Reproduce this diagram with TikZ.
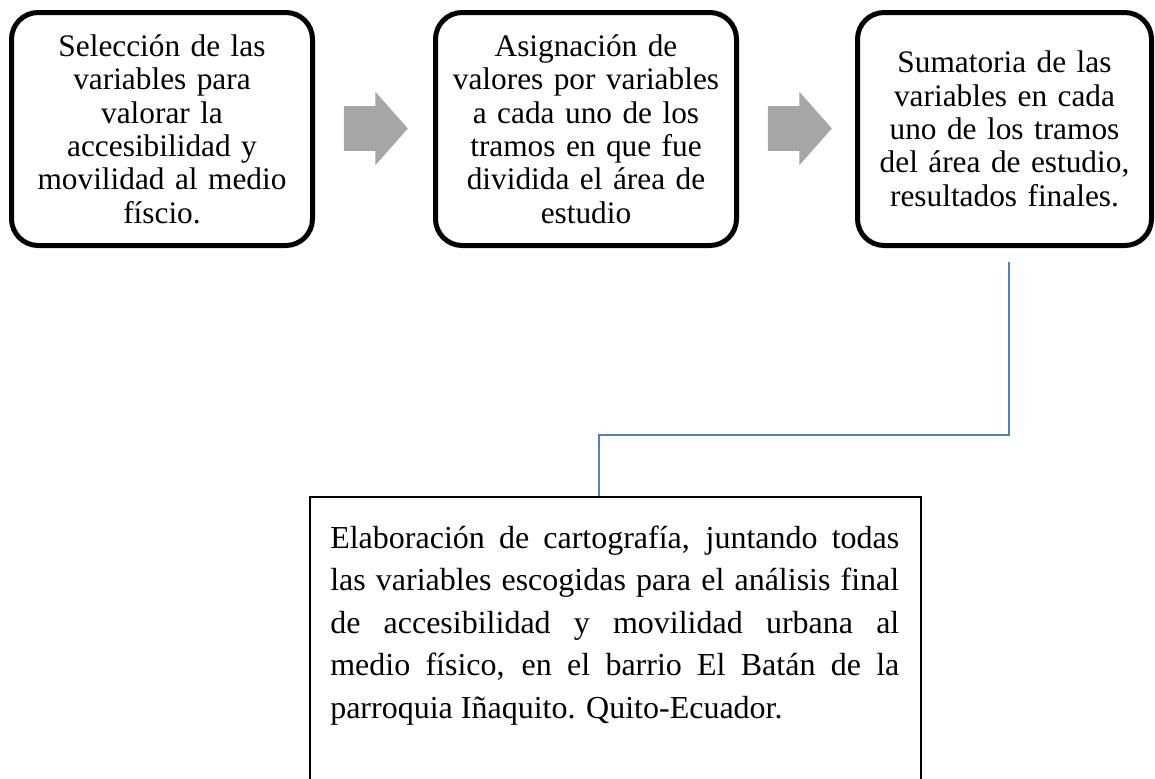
\documentclass[tikz,border=0pt]{standalone}
\usepackage{fontspec}
\setmainfont{Liberation Serif}
\usetikzlibrary{positioning,shapes.arrows}

\definecolor{arrowgray}{HTML}{A6A6A6}
\definecolor{linkblue}{HTML}{4F81BD}

\begin{document}
\begin{tikzpicture}[x=0.75pt,y=-0.75pt,
stepbox/.style={draw, line width=3.75pt, rounded corners=20pt, minimum width=225.75pt, minimum height=174.75pt, text width=215pt, align=center, inner sep=0pt, font=\fontsize{23.5}{25}\selectfont},
flowarrow/.style={single arrow, fill=arrowgray, draw=none, minimum height=48pt, inner xsep=0pt, inner ysep=16.5pt, single arrow head extend=10.9pt, single arrow tip angle=97},
link/.style={draw=linkblue, line width=1.1pt},
mapbox/.style={draw, line width=1.25pt, minimum width=458.25pt, minimum height=240pt, anchor=north west, inner sep=0pt},
maptext/.style={anchor=north west, text width=426.75pt, align=justify, inner sep=0pt, font=\fontsize{24}{31.9}\selectfont},]
\useasboundingbox (0,0) rectangle (1155,778);

\node[stepbox] (seleccion) at (162,129) {Selección de las\\variables para\\valorar la\\accesibilidad y\\movilidad al medio\\físcio.};
\node[stepbox] (asignacion) at (586,129) {Asignación de\\valores por variables\\a cada uno de los\\tramos en que fue\\dividida el área de\\estudio};
\node[stepbox, minimum width=220.5pt] (sumatoria) at (1004.5,129) {Sumatoria de las\\variables en cada\\uno de los tramos\\del área de estudio,\\resultados finales.};

\node[flowarrow] (paso1) at (366,128.5) {};
\node[flowarrow] (paso2) at (790,128.5) {};

\node[mapbox] (cartografia) at (309,496) {};
\node[maptext] (cartotexto) at (330,518) {\strut Elaboración de cartografía, juntando todas\linebreak las variables escogidas para el análisis final\linebreak de accesibilidad y movilidad urbana al\linebreak medio físico, en el barrio El Batán de la\linebreak parroquia Iñaquito. Quito-Ecuador.};

\coordinate (salida) at (1009,262);
\coordinate (codo) at (599,435);
\draw[link] (salida) |- (codo) -- (codo |- cartografia.north);

\end{tikzpicture}
\end{document}
